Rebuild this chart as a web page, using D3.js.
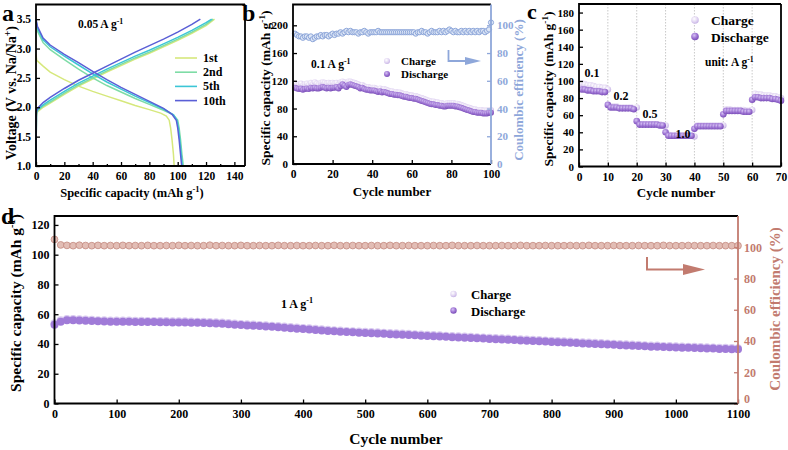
<!DOCTYPE html>
<html><head><meta charset="utf-8">
<script src="https://cdn.jsdelivr.net/npm/d3@7"></script>
<style>
body{margin:0;background:#fff}
svg text{font-family:"Liberation Serif","Times New Roman",serif;font-weight:bold}
</style>
</head><body>
<svg id="chart" width="788" height="450"></svg>
<script>
// ---------------- DATA ----------------
// Panel a: galvanostatic curves [capacity, voltage]
const aLabels = ["1st", "2nd", "5th", "10th"];
const aColors = ["#d6e87c", "#7edca6", "#3cc6d6", "#5a5fd6"];
const aCharge1 = [[0,1.0],[0.3,1.85],[1,1.92],[5,2.0],[10,2.07],[20,2.22],[30,2.36],[40,2.48],[50,2.6],[60,2.71],[70,2.82],[80,2.92],[90,3.03],[100,3.14],[110,3.26],[120,3.39],[126,3.5]];
const aCharge2 = [[0,1.0],[0.3,1.88],[1,1.94],[5,2.02],[10,2.09],[20,2.24],[30,2.38],[40,2.5],[50,2.62],[60,2.73],[70,2.84],[80,2.94],[90,3.05],[100,3.16],[110,3.28],[120,3.41],[125,3.5]];
const aCharge5 = [[0,1.0],[0.3,1.9],[1,1.96],[5,2.04],[10,2.12],[20,2.27],[30,2.41],[40,2.53],[50,2.65],[60,2.76],[70,2.87],[80,2.97],[90,3.08],[100,3.19],[110,3.31],[120,3.44],[124,3.5]];
const aCharge10 = [[0,1.0],[0.3,1.92],[1,1.98],[5,2.08],[10,2.17],[20,2.32],[30,2.46],[40,2.58],[50,2.7],[60,2.82],[70,2.94],[80,3.05],[90,3.16],[100,3.28],[110,3.41],[116,3.5]];
const aDischarge1 = [[0,2.9],[0.5,2.8],[5,2.7],[10,2.6],[20,2.47],[30,2.36],[40,2.27],[50,2.19],[60,2.11],[70,2.03],[80,1.96],[88,1.9],[92,1.85],[94,1.78],[95,1.65],[96,1.45],[97,1.2],[97.5,1.0]];
const aDischarge2 = [[0,3.45],[1,3.3],[5,3.1],[10,2.98],[20,2.81],[30,2.65],[40,2.5],[50,2.37],[60,2.26],[70,2.15],[80,2.05],[90,1.95],[97,1.87],[100,1.78],[101,1.65],[102,1.45],[103,1.2],[104,1.0]];
const aDischarge5 = [[0,3.48],[1,3.35],[5,3.15],[10,3.03],[20,2.87],[30,2.72],[40,2.57],[50,2.43],[60,2.31],[70,2.19],[80,2.08],[90,1.97],[97,1.87],[99.5,1.78],[100.5,1.65],[101.5,1.45],[102.5,1.2],[103.3,1.0]];
const aDischarge10 = [[0,3.5],[1,3.38],[5,3.18],[10,3.06],[20,2.9],[30,2.76],[40,2.61],[50,2.47],[60,2.34],[70,2.22],[80,2.1],[90,1.98],[96,1.88],[99,1.78],[100,1.65],[101,1.45],[102,1.2],[102.8,1.0]];
const aXTicks = [0,20,40,60,80,100,120,140];
const aYTicks = [1.0,1.5,2.0,2.5,3.0,3.5];

// Panel b: cycling at 0.1 A g-1 (cycles 1..100)
const bCharge = [116,114,115,116,113,115,116,114,117,115,118,116,115,117,118,117,116,117,116,117,116,117,115,118,119,118,116,119,119,118,117,116,115,113,114,112,111,111,110,110,110,109,108,109,107,108,107,106,105,105,104,104,103,103,102,101,101,100,99,99,98,98,97,96,95,94,93,92,91,90,90,89,89,88,88,87,87,88,88,88,88,87,87,86,85,84,83,82,81,80,79,79,78,78,78,77,77,77,78,78];
const bDischarge = [110,109,108,109,107,108,109,108,110,109,110,109,109,110,111,110,109,110,109,110,110,111,109,112,115,113,111,114,115,114,113,112,111,109,110,108,107,107,106,106,106,105,104,105,103,104,103,102,101,101,100,100,99,99,98,97,97,96,95,95,94,94,93,92,91,90,89,88,87,86,86,85,85,84,84,83,83,84,84,84,84,83,83,82,81,80,79,78,77,76,75,75,74,74,74,73,73,73,74,74];
const bCE = [94,93,92,92,91,92,92,91,92,90,91,92,92,93,92,93,93,92,93,94,93,94,94,95,94,95,96,95,96,95,95,95,94,95,95,96,95,94,95,95,95,95,96,95,95,95,95,95,95,95,95,95,95,95,95,95,95,95,95,95,95,94,95,95,96,95,95,94,95,96,95,95,95,96,95,96,95,96,97,96,95,96,95,95,96,95,96,95,96,95,96,95,96,95,96,96,95,96,97,102];
const bXTicks = [0,20,40,60,80,100];
const bYTicks = [0,40,80,120,160,200];
const bY2Ticks = [0,20,40,60,80,100];

// Panel c: rate capability (cycles 1..70)
const cCharge = [97,96,95,95,94,93,93,92,92,90,70,70,70,69,69,69,69,69,68,69,49,49,49,49,49,49,49,49,48,48,37,36,36,36,36,36,36,36,36,35,48,48,48,48,48,48,48,48,48,48,67,67,66,66,66,66,66,65,65,66,85,84,84,83,83,83,82,82,81,80];
const cDischarge = [90,90,89,89,88,88,88,87,87,72,69,69,69,68,68,68,68,68,67,53,49,49,49,49,49,49,49,48,48,40,36,36,36,36,36,36,36,36,36,44,47,47,47,47,47,47,47,47,47,61,65,65,65,65,65,65,64,64,64,78,81,81,80,80,80,80,79,79,78,77];
const cRates = ["0.1","0.2","0.5","1.0"];
const cXTicks = [0,10,20,30,40,50,60,70];
const cYTicks = [0,20,40,60,80,100,120,140,160,180];

// Panel d: long cycling at 1 A g-1 (sampled every 10 cycles, 0..1100)
const dCycles = [0,10,20,30,40,50,60,70,80,90,100,110,120,130,140,150,160,170,180,190,200,210,220,230,240,250,260,270,280,290,300,310,320,330,340,350,360,370,380,390,400,410,420,430,440,450,460,470,480,490,500,510,520,530,540,550,560,570,580,590,600,610,620,630,640,650,660,670,680,690,700,710,720,730,740,750,760,770,780,790,800,810,820,830,840,850,860,870,880,890,900,910,920,930,940,950,960,970,980,990,1000,1010,1020,1030,1040,1050,1060,1070,1080,1090,1100];
const dDischarge = [53,55,56,56,55.8,55.6,55.4,55.2,55.1,55,55,54.9,54.9,54.8,54.8,54.7,54.7,54.6,54.6,54.5,54.5,54.4,54.3,54.2,54.1,54,53.8,53.6,53.3,53,52.7,52.5,52.3,52,51.8,51.5,51.2,50.9,50.6,50.3,50,49.7,49.4,49.1,48.8,48.5,48.3,48,47.8,47.6,47.4,47.2,47,46.8,46.6,46.4,46.2,46,45.8,45.6,45.4,45.2,45,44.8,44.6,44.4,44.2,44,43.8,43.6,43.4,43.2,43,42.8,42.6,42.4,42.2,42,41.8,41.6,41.4,41.2,41,40.8,40.6,40.4,40.2,40,39.8,39.6,39.4,39.2,39,38.8,38.6,38.4,38.2,38.1,37.9,37.8,37.7,37.5,37.4,37.3,37.1,37,36.9,36.7,36.6,36.5,36.4];
const dCharge = [54,56,56.8,56.8,56.6,56.4,56.2,56,55.9,55.8,55.8,55.7,55.7,55.6,55.6,55.5,55.5,55.4,55.4,55.3,55.3,55.2,55.1,55,54.9,54.8,54.6,54.4,54.1,53.8,53.5,53.3,53.1,52.8,52.6,52.3,52,51.7,51.4,51.1,50.8,50.5,50.2,49.9,49.6,49.3,49.1,48.8,48.6,48.4,48.2,48,47.8,47.6,47.4,47.2,47,46.8,46.6,46.4,46.2,46,45.8,45.6,45.4,45.2,45,44.8,44.6,44.4,44.2,44,43.8,43.6,43.4,43.2,43,42.8,42.6,42.4,42.2,42,41.8,41.6,41.4,41.2,41,40.8,40.6,40.4,40.2,40,39.8,39.6,39.4,39.2,39,38.9,38.7,38.6,38.5,38.3,38.2,38.1,37.9,37.8,37.7,37.5,37.4,37.3,37.2];
const dCE = [105,101.5,101.2,101,101.3,101.1,101,101.2,101,101.1,101,101.2,101,101.1,101,101.2,101,101,101.1,101,101.2,101,101.1,101,101,101.3,101,101.1,101,101,101.2,101,101,101.1,101,101,101.2,101,101,101.1,101,101,101.1,101,101,101.2,101,101,101.1,101,101,101.1,101,101,101.2,101,101,101.1,101,101,101,101.1,101,101,101.2,101,101,101,101.1,101,101,101,101.1,101,101,101.2,101,101,101,101.1,101,101,101,101.1,101,101,101.2,101,101,101,101.1,101,101,101,101.1,101,101,101,101.2,101,101,101,101.1,101,101,101,101.1,101,101,101,101];
const dXTicks = [0,100,200,300,400,500,600,700,800,900,1000,1100];
const dYTicks = [0,20,40,60,80,100,120];
const dY2Ticks = [0,20,40,60,80,100];

// ---------------- DRAWING ----------------
const svg = d3.select("#chart");
const FONT = '"Liberation Serif","Times New Roman",serif';
const defs = svg.append("defs");
function sphere(id, c0, c1, c2) {
  const g = defs.append("radialGradient").attr("id", id).attr("cx","40%").attr("cy","35%").attr("r","65%");
  g.append("stop").attr("offset","0%").attr("stop-color", c0);
  g.append("stop").attr("offset","60%").attr("stop-color", c1);
  g.append("stop").attr("offset","100%").attr("stop-color", c2);
}
sphere("gCh", "#ffffff", "#e2d6f2", "#c8b5e6");
sphere("gDis", "#d6c2f4", "#9c72d2", "#7a4fb8");

function txt(g, x, y, parts, fs, opts = {}) {
  const t = g.append("text").attr("x", x).attr("y", y)
    .style("font-size", fs + "px").attr("fill", opts.fill || "#000")
    .attr("text-anchor", opts.anchor || "start");
  if (opts.rotate) t.attr("transform", `rotate(-90,${x},${y})`);
  const shift = fs * 0.38;
  let pending = 0;
  parts.forEach(p => {
    if (typeof p === "string") {
      const s = t.append("tspan").text(p);
      if (pending) { s.attr("dy", pending); pending = 0; }
    } else {
      t.append("tspan").attr("dy", -shift).style("font-size", (fs * 0.68) + "px").text(p.sup);
      pending = shift;
    }
  });
  return t;
}

function axis(g, gen, transform, color, fs, pad) {
  const a = g.append("g").attr("transform", transform).call(gen.tickPadding(pad));
  a.select(".domain").remove();
  a.selectAll(".tick line").attr("stroke", color).attr("stroke-width", 1.3);
  a.selectAll(".tick text").attr("fill", color).style("font-size", fs + "px")
    .style("font-family", FONT).style("font-weight", "bold");
  return a;
}

function frame(g, x0, x1, y0, y1, rightColor) {
  g.append("path").attr("d", `M${x1},${y0}H${x0}V${y1}H${x1}`).attr("fill","none").attr("stroke","#000").attr("stroke-width",1.8);
  g.append("line").attr("x1", x1).attr("x2", x1).attr("y1", y0).attr("y2", y1)
    .attr("stroke", rightColor || "#000").attr("stroke-width", 1.8);
}

// ---- Panel a ----
(function(){
  const g = svg.append("g");
  const x = d3.scaleLinear().domain([0, 147.5]).range([36, 245]);
  const y = d3.scaleLinear().domain([1, 3.75]).range([166, 4.5]);
  const curves = [[aCharge1,aDischarge1],[aCharge2,aDischarge2],[aCharge5,aDischarge5],[aCharge10,aDischarge10]];
  const lineV = d3.line().x(d => x(d[0])).y(d => y(d[1]));
  curves.forEach((c, i) => {
    g.append("path").attr("d", lineV(c[0])).attr("fill","none").attr("stroke", aColors[i]).attr("stroke-width", 1.5);
    g.append("path").attr("d", lineV(c[1])).attr("fill","none").attr("stroke", aColors[i]).attr("stroke-width", 1.5);
  });
  axis(g, d3.axisBottom(x).tickValues(aXTicks).tickSize(-4), "translate(0,166)", "#000", 11.5, 6);
  axis(g, d3.axisBottom(x).tickValues(d3.range(10,141,20)).tickSize(-2).tickFormat(""), "translate(0,166)", "#000", 11, 6);
  axis(g, d3.axisLeft(y).tickValues(aYTicks).tickSize(-4).tickFormat(d3.format(".1f")), "translate(36,0)", "#000", 11.5, 5);
  frame(g, 36, 245, 4.5, 166);
  txt(g, 78, 28, ["0.05 A g", {sup:"-1"}], 11.5);
  aLabels.forEach((l, i) => {
    const yy = 58 + i * 14.2;
    g.append("line").attr("x1", 175).attr("x2", 197).attr("y1", yy).attr("y2", yy).attr("stroke", aColors[i]).attr("stroke-width", 1.6);
    txt(g, 203, yy + 4, [l], 12);
  });
  txt(g, 132, 197, ["Specific capacity (mAh g", {sup:"-1"}, ")"], 12.5, {anchor:"middle"});
  txt(g, 16, 93, ["Voltage (V vs. Na/Na", {sup:"+"}, ")"], 14, {anchor:"middle", rotate:true});
  txt(g, 2, 21, ["a"], 24);
})();

// ---- Panel b ----
(function(){
  const g = svg.append("g");
  const x = d3.scaleLinear().domain([0, 100]).range([293, 491]);
  const y = d3.scaleLinear().domain([0, 230]).range([164, 4.5]);
  const y2 = d3.scaleLinear().domain([0, 115]).range([164, 4.5]);
  const ceCol = "#8ea7da";
  g.selectAll(".ce").data(bCE).join("circle").attr("cx", (d,i) => x(i+1)).attr("cy", d => y2(d)).attr("r", 2.6)
    .attr("fill", "#dde6f6").attr("stroke", ceCol).attr("stroke-width", 1);
  g.selectAll(".ch").data(bCharge).join("circle").attr("cx", (d,i) => x(i+1)).attr("cy", d => y(d)).attr("r", 3)
    .attr("fill", "url(#gCh)");
  g.selectAll(".dis").data(bDischarge).join("circle").attr("cx", (d,i) => x(i+1)).attr("cy", d => y(d)).attr("r", 3)
    .attr("fill", "url(#gDis)");
  axis(g, d3.axisBottom(x).tickValues(bXTicks).tickSize(-4), "translate(0,164)", "#000", 11.5, 6);
  axis(g, d3.axisLeft(y).tickValues(bYTicks).tickSize(-4), "translate(293,0)", "#000", 11, 5);
  axis(g, d3.axisRight(y2).tickValues(bY2Ticks).tickSize(-4), "translate(491,0)", ceCol, 11, 6);
  frame(g, 293, 491, 4.5, 164, ceCol);
  txt(g, 311, 68, ["0.1 A g", {sup:"-1"}], 11.5);
  g.append("circle").attr("cx", 387).attr("cy", 61).attr("r", 3).attr("fill", "url(#gCh)");
  g.append("circle").attr("cx", 387).attr("cy", 74).attr("r", 3).attr("fill", "url(#gDis)");
  txt(g, 401, 64.5, ["Charge"], 11);
  txt(g, 401, 78, ["Discharge"], 11);
  g.append("path").attr("d", "M448.5,50V61H467").attr("fill","none").attr("stroke", ceCol).attr("stroke-width", 1.8);
  g.append("path").attr("d", "M465,57L481,61L465,65Z").attr("fill", ceCol);
  txt(g, 392, 196, ["Cycle number"], 13, {anchor:"middle"});
  txt(g, 270, 88, ["Specific capacity (mAh g", {sup:"-1"}, ")"], 13.5, {anchor:"middle", rotate:true});
  txt(g, 523, 90, ["Coulombic efficiency (%)"], 13, {anchor:"middle", rotate:true, fill: ceCol});
  txt(g, 242, 21, ["b"], 24);
})();

// ---- Panel c ----
(function(){
  const g = svg.append("g");
  const x = d3.scaleLinear().domain([0, 70]).range([579, 781]);
  const y = d3.scaleLinear().domain([0, 190]).range([166.5, 4]);
  d3.range(10, 61, 10).forEach(v => g.append("line").attr("x1", x(v)).attr("x2", x(v)).attr("y1", 4).attr("y2", 166.5)
    .attr("stroke", "#bbb").attr("stroke-width", 0.8).attr("stroke-dasharray", "1.5,1.5"));
  g.selectAll(".ch").data(cCharge).join("circle").attr("cx", (d,i) => x(i+1)).attr("cy", d => y(d)).attr("r", 3.3)
    .attr("fill", "url(#gCh)");
  g.selectAll(".dis").data(cDischarge).join("circle").attr("cx", (d,i) => x(i+1)).attr("cy", d => y(d)).attr("r", 3.3)
    .attr("fill", "url(#gDis)");
  axis(g, d3.axisBottom(x).tickValues(cXTicks).tickSize(-4), "translate(0,166.5)", "#000", 11.5, 6);
  axis(g, d3.axisLeft(y).tickValues(cYTicks).tickSize(-4), "translate(579,0)", "#000", 11, 5);
  frame(g, 579, 781, 4, 166.5);
  const rateX = [592, 621, 650, 683], rateY = [77, 100, 118, 138];
  cRates.forEach((r, i) => txt(g, rateX[i], rateY[i], [r], 12, {anchor:"middle"}));
  g.append("circle").attr("cx", 695).attr("cy", 20).attr("r", 3.8).attr("fill", "url(#gCh)");
  g.append("circle").attr("cx", 695).attr("cy", 36.5).attr("r", 3.8).attr("fill", "url(#gDis)");
  txt(g, 711, 25, ["Charge"], 13.5);
  txt(g, 711, 41.5, ["Discharge"], 13.5);
  txt(g, 705, 66, ["unit: A g", {sup:"-1"}], 11.5);
  txt(g, 676, 197, ["Cycle number"], 13, {anchor:"middle"});
  txt(g, 553, 89, ["Specific capacity (mAh g", {sup:"-1"}, ")"], 13.5, {anchor:"middle", rotate:true});
  txt(g, 527, 19, ["c"], 22);
})();

// ---- Panel d ----
(function(){
  const g = svg.append("g");
  const x = d3.scaleLinear().domain([0, 1100]).range([54.5, 738]);
  const y = d3.scaleLinear().domain([0, 126]).range([403.5, 216]);
  const y2 = d3.scaleLinear().domain([0, 120]).range([403.5, 216]);
  const ceCol = "#c27b6f";
  g.selectAll(".ce").data(dCE).join("circle").attr("cx", (d,i) => x(dCycles[i])).attr("cy", d => y2(d)).attr("r", 3.4)
    .attr("fill", "#e2bdb5").attr("stroke", "#c48a80").attr("stroke-width", 0.8);
  g.selectAll(".ch").data(dCharge).join("circle").attr("cx", (d,i) => x(dCycles[i])).attr("cy", d => y(d)).attr("r", 4)
    .attr("fill", "#d9caf0");
  g.selectAll(".dis").data(dDischarge).join("circle").attr("cx", (d,i) => x(dCycles[i])).attr("cy", d => y(d)).attr("r", 4)
    .attr("fill", "#a07bd8");
  axis(g, d3.axisBottom(x).tickValues(dXTicks).tickSize(-4).tickFormat(d3.format("d")), "translate(0,403.5)", "#000", 12, 6);
  axis(g, d3.axisLeft(y).tickValues(dYTicks).tickSize(-4), "translate(54.5,0)", "#000", 12, 5);
  const r = axis(g, d3.axisRight(y2).tickValues(dY2Ticks).tickSize(-4), "translate(738,0)", ceCol, 12, 6);
  r.selectAll(".tick text").filter(d => d === 0).attr("dy", "-0.1em");
  frame(g, 54.5, 738, 216, 403.5, ceCol);
  txt(g, 281, 308, ["1 A g", {sup:"-1"}], 12);
  g.append("circle").attr("cx", 453.5).attr("cy", 294).attr("r", 3.2).attr("fill", "url(#gCh)");
  g.append("circle").attr("cx", 453.5).attr("cy", 310.5).attr("r", 3.2).attr("fill", "url(#gDis)");
  txt(g, 471, 299, ["Charge"], 12.7);
  txt(g, 471, 315.5, ["Discharge"], 12.7);
  g.append("path").attr("d", "M647,257V269.5H686").attr("fill","none").attr("stroke", ceCol).attr("stroke-width", 2);
  g.append("path").attr("d", "M683,264L705,269.5L683,275Z").attr("fill", ceCol);
  txt(g, 396, 444, ["Cycle number"], 15.5, {anchor:"middle"});
  txt(g, 21, 303, ["Specific capacity (mAh g", {sup:"-1"}, ")"], 15.5, {anchor:"middle", rotate:true});
  txt(g, 780, 309, ["Coulombic efficiency (%)"], 15, {anchor:"middle", rotate:true, fill: ceCol});
  txt(g, 1, 224, ["d"], 24);
})();
</script>
</body></html>
